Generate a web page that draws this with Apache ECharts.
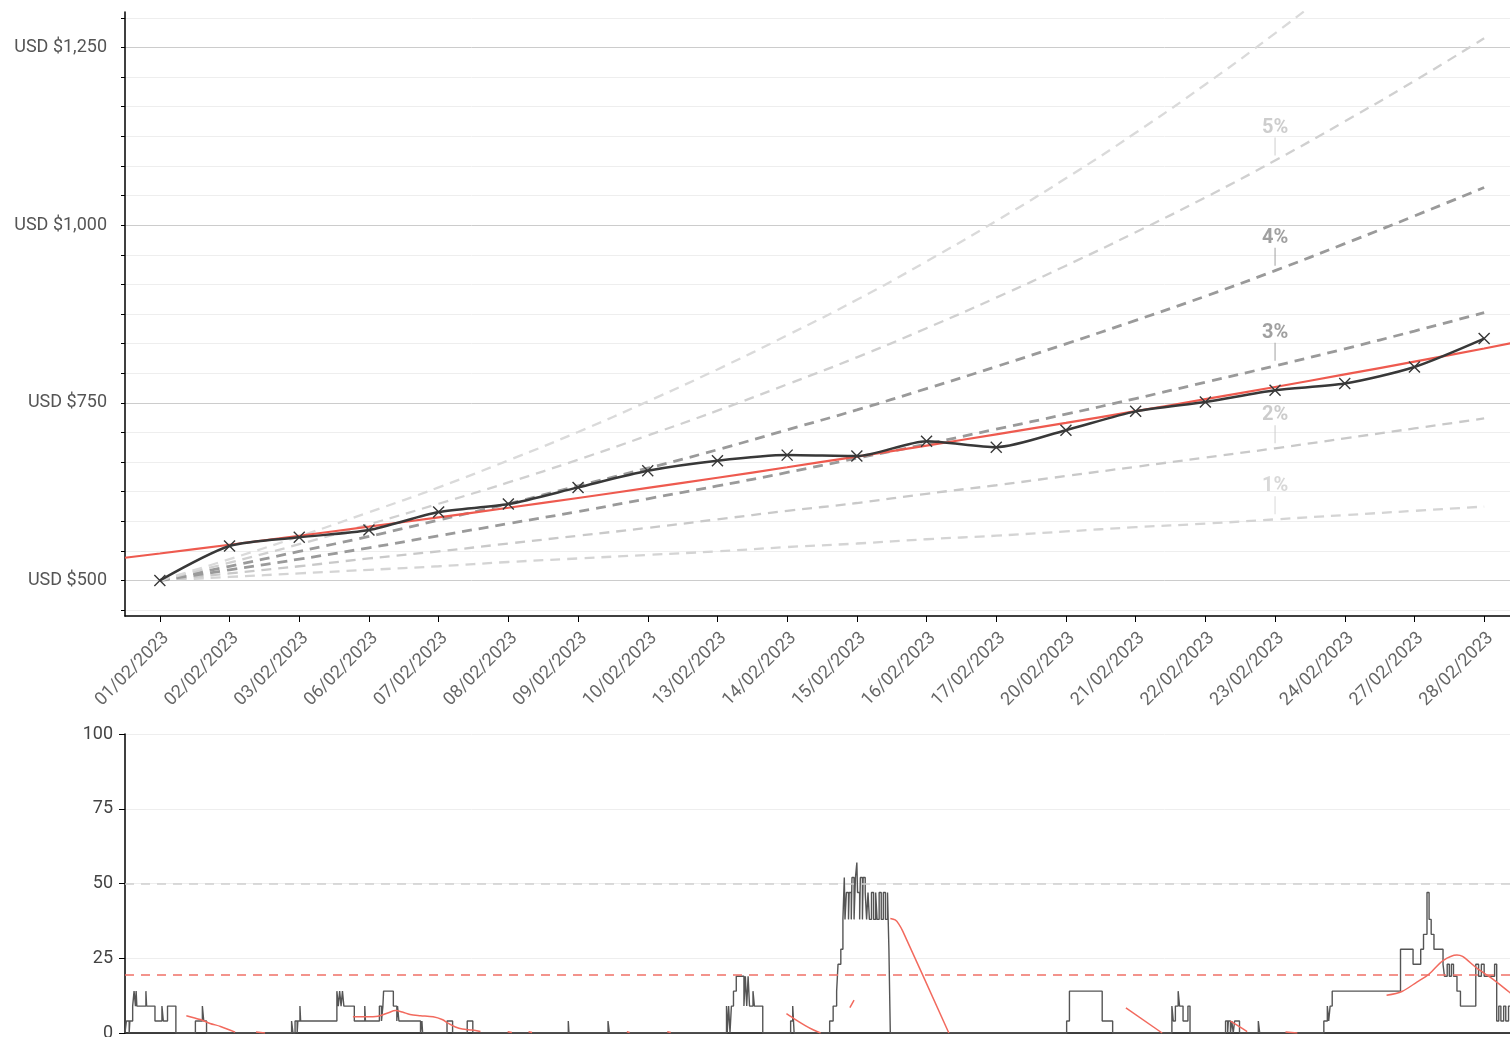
<!DOCTYPE html>
<html><head><meta charset="utf-8">
<script src="https://cdn.jsdelivr.net/npm/echarts@6/dist/echarts.min.js"></script>
<style>html,body{margin:0;padding:0;background:#fff}#c{width:1510px;height:1037px}</style>
</head><body><div id="c"></div>
<script>
// ---------- DATA ----------
const dates = ['01/02/2023','02/02/2023','03/02/2023','06/02/2023','07/02/2023','08/02/2023','09/02/2023','10/02/2023','13/02/2023','14/02/2023','15/02/2023','16/02/2023','17/02/2023','20/02/2023','21/02/2023','22/02/2023','23/02/2023','24/02/2023','27/02/2023','28/02/2023'];
const portfolioValues = [500, 548.5, 560.7, 571, 596.3, 607.5, 631, 654.3, 668.4, 676.4, 675, 696, 687.6, 711.5, 738, 751.3, 767.8, 777.2, 800.5, 840.4];
const trendX = [-0.5, 0, 1, 2, 3, 4, 5, 6, 7, 8, 9, 10, 11, 12, 13, 14, 15, 16, 17, 18, 19, 19.5];
const trendValues = [532, 538, 550.3, 562.9, 575.7, 588.9, 602.3, 616.1, 630.2, 644.6, 659.3, 674.4, 689.8, 705.6, 721.7, 738.2, 755.1, 772.3, 790.0, 808.0, 826.5, 836];
const growthRates = ['1%', '2%', '3%', '4%', '5%', '6%'];
const growth1 = [500, 505, 510, 515, 520, 526, 531, 536, 541, 547, 552, 558, 563, 569, 575, 580, 586, 592, 598, 604];
const growth2 = [500, 510, 520, 531, 541, 552, 563, 574, 586, 598, 609, 622, 634, 647, 660, 673, 686, 700, 714, 728];
const growth3 = [500, 515, 530, 546, 563, 580, 597, 615, 633, 652, 672, 692, 713, 734, 756, 779, 802, 826, 851, 877];
const growth4 = [500, 520, 541, 562, 585, 608, 633, 658, 684, 712, 740, 770, 801, 833, 866, 900, 936, 974, 1013, 1053];
const growth5 = [500, 525, 551, 579, 608, 638, 670, 704, 739, 776, 814, 855, 898, 943, 990, 1039, 1091, 1146, 1203, 1263];
const growth6 = [500, 530, 562, 596, 631, 669, 709, 752, 797, 845, 895, 949, 1006, 1066, 1130, 1198, 1270, 1346, 1427, 1513];
const rateLabelDate = '23/02/2023';
const priceTicks = [458.33, 500, 541.67, 583.33, 625, 666.67, 708.33, 750, 791.67, 833.33, 875, 916.67, 958.33, 1000, 1041.67, 1083.33, 1125, 1166.67, 1208.33, 1250, 1291.67];
const priceLabels = [500, 750, 1000, 1250];
const activityTicks = [0, 25, 50, 75, 100];
const activityReference = 50;
const activityThreshold = 19.5;
const activityLevels = [
[-0.5,0],[-0.48,4],[-0.44,0],[-0.43,4],[-0.39,9],[-0.37,14],[-0.35,9],[-0.34,14],[-0.33,9],[-0.20,14],[-0.19,9],[-0.07,4],[0.03,9],[0.05,4],[0.11,9],[0.23,0],
[0.51,4],[0.61,9],[0.63,4],[0.67,0],
[1.89,4],[1.91,0],[1.94,4],[1.97,0],[1.98,4],[2.01,9],[2.02,4],[2.54,14],[2.56,9],[2.58,14],[2.60,9],[2.62,14],[2.64,9],[2.79,4],[2.94,9],[2.95,4],[3.15,9],[3.18,4],[3.20,9],[3.21,14],[3.35,9],[3.40,4],[3.41,9],[3.43,4],[3.74,0],[3.76,4],[3.77,0],
[4.12,4],[4.20,0],[4.41,4],[4.49,0],
[5.86,4],[5.87,0],[6.43,4],[6.45,0],
[8.13,9],[8.14,0],[8.16,9],[8.18,0],[8.20,9],[8.23,14],[8.27,19],[8.38,9],[8.40,19],[8.42,9],[8.44,19],[8.46,9],[8.51,14],[8.53,9],[8.65,0],
[9.05,4],[9.08,9],[9.10,0],
[9.61,4],[9.66,9],[9.71,14],[9.73,23],[9.77,28],[9.80,38],[9.82,52],[9.83,38],[9.85,47],[9.88,38],[9.89,47],[9.92,38],[9.93,52],[9.96,38],[9.98,52],[10.00,57],[10.01,47],[10.04,38],[10.05,52],[10.08,38],[10.09,52],[10.12,47],[10.14,38],[10.16,47],[10.18,38],[10.21,47],[10.24,38],[10.27,47],[10.29,38],[10.32,47],[10.35,38],[10.38,47],[10.41,38],[10.44,47],[10.46,28],[10.48,0],
[13.01,4],[13.05,14],[13.52,4],[13.67,0],
[14.52,9],[14.54,4],[14.57,9],[14.61,14],[14.63,9],[14.68,4],[14.75,9],[14.78,0],
[15.29,4],[15.32,0],[15.33,4],[15.36,0],[15.38,4],[15.40,0],[15.42,4],[15.49,0],[15.76,4],[15.78,0],
[16.70,4],[16.75,9],[16.77,4],[16.79,9],[16.82,14],[17.80,28],[17.98,23],[18.09,28],[18.13,33],[18.18,47],[18.21,38],[18.24,33],[18.28,28],[18.41,23],[18.43,19],[18.47,23],[18.50,19],[18.53,23],[18.56,19],[18.61,14],[18.66,9],[18.88,23],[18.92,19],[18.96,23],[19.00,19],[19.15,23],[19.18,4],[19.21,9],[19.24,4],[19.28,9],[19.31,4],[19.35,9],[19.40,4],[19.5,4]
];
const activitySmoothed = [
 [[0.38,5.8],[0.58,4.5],[0.72,3.2],[0.87,2.2],[1.08,0.3]],
 [[1.38,0.3],[1.51,0]],
 [[2.77,5.4],[2.95,5.4],[3.13,5.6],[3.28,6.8],[3.38,7.5],[3.48,7.0],[3.59,6.2],[3.74,5.8],[3.92,5.4],[4.05,4.5],[4.14,3.2],[4.24,2.0],[4.34,1.3],[4.48,1.0],[4.60,0.5]],
 [[4.99,0.4],[5.05,0.2]],
 [[5.29,0.4],[5.34,0.2]],
 [[6.70,0.4],[6.74,0.2]],
 [[7.28,0.4],[7.33,0.2]],
 [[8.99,6.5],[9.12,4.5],[9.26,2.5],[9.38,1.0],[9.48,0]],
 [[9.90,8.5],[9.96,11]],
 [[10.48,38.3],[10.55,37.8],[10.60,36.5],[10.66,34],[11.32,0]],
 [[13.86,8.4],[14.38,0]],
 [[15.36,4],[15.50,2],[15.60,0.5]],
 [[16.15,0.3],[16.32,0]],
 [[17.60,12.6],[17.82,13.9],[18.04,17.1],[18.21,19.7],[18.41,24.2],[18.61,26.1],[18.69,25.6],[18.90,21.6],[19.09,18.6],[19.28,15.2],[19.40,12.9],[19.5,11]]
];

// ---------- STYLES ----------
const FONT = 'Roboto';
const growthSeriesData = [growth1, growth2, growth3, growth4, growth5, growth6];
const growthStyles = [
  {color:'#d4d4d4', width:2.3, label:'#d8d8d8', showLabel:true},
  {color:'#c9c9c9', width:2.3, label:'#cccccc', showLabel:true},
  {color:'#9a9a9a', width:2.8, label:'#a0a0a0', showLabel:true},
  {color:'#9a9a9a', width:2.8, label:'#a0a0a0', showLabel:true},
  {color:'#d0d0d0', width:2.3, label:'#cdcdcd', showLabel:true},
  {color:'#dadada', width:2.3, label:'#dadada', showLabel:false}
];
const minorGrid = '#eeeeee', majorGrid = '#cccccc';

const chart = echarts.init(document.getElementById('c'), null, {renderer:'canvas'});

const series = [];
growthSeriesData.forEach((arr, k) => {
  const st = growthStyles[k];
  const idx = dates.indexOf(rateLabelDate);
  series.push({
    type:'line', xAxisIndex:0, yAxisIndex:0, data:arr, symbol:'none', smooth:true, silent:true, z:2,
    lineStyle:{type:[10,7], color:st.color, width:st.width},
    markPoint: st.showLabel ? {
      silent:true, symbol:'rect', symbolSize:[1,18], symbolOffset:[0,-14],
      itemStyle:{color:st.label},
      label:{show:true, position:'top', distance:0, formatter:growthRates[k], color:st.label, fontSize:20, fontWeight:'bold', fontFamily:FONT},
      data:[{coord:[rateLabelDate, arr[idx]]}]
    } : undefined
  });
});
series.push({
  type:'line', xAxisIndex:1, yAxisIndex:0, data:trendX.map((x,i)=>[x, trendValues[i]]),
  symbol:'none', smooth:true, silent:true, z:4, lineStyle:{color:'#ee5a4f', width:2.2}
});
series.push({
  type:'line', xAxisIndex:0, yAxisIndex:0, data:portfolioValues, smooth:0.25, z:5,
  symbol:'path://M0,0L10,10M10,0L0,10', symbolSize:11, showSymbol:true,
  itemStyle:{color:'#383838', borderColor:'#383838', borderWidth:1.4},
  lineStyle:{color:'#383838', width:2.5}
});
series.push({
  type:'line', xAxisIndex:2, yAxisIndex:1, data:activityLevels, step:'end', symbol:'none', silent:true, z:3,
  lineStyle:{color:'#555555', width:1.4},
  markLine:{silent:true, symbol:'none', label:{show:false},
    data:[
      {yAxis:activityReference, lineStyle:{color:'#d0d0d0', type:[9,7], width:1.5}},
      {yAxis:activityThreshold, lineStyle:{color:'#f07067', type:[9,7], width:1.5}}
    ]}
});
const redData = [];
activitySmoothed.forEach((seg, i) => {
  if (i > 0) redData.push(['-','-']);
  seg.forEach(p => redData.push(p));
});
series.push({
  type:'line', xAxisIndex:2, yAxisIndex:1, data:redData, smooth:0.3, symbol:'none', silent:true, z:4,
  connectNulls:false, lineStyle:{color:'#f26a5e', width:1.5}
});

const option = {
  animation:false,
  backgroundColor:'#ffffff',
  textStyle:{fontFamily:FONT},
  grid:[
    {left:125, top:12, right:-9, height:604, outerBoundsMode:'none', containLabel:false},
    {left:125, top:734, right:-9, bottom:4, outerBoundsMode:'none', containLabel:false}
  ],
  xAxis:[
    {type:'category', gridIndex:0, data:dates, boundaryGap:true,
     axisLine:{show:true, onZero:false, lineStyle:{color:'#000', width:1.5}},
     axisTick:{show:true, alignWithLabel:true, length:6, lineStyle:{color:'#000'}},
     axisLabel:{rotate:45, interval:0, fontSize:18, color:'#666', fontFamily:FONT, margin:13, verticalAlign:'top'},
     splitLine:{show:false}},
    {type:'value', gridIndex:0, min:-0.5, max:19.5, show:false},
    {type:'value', gridIndex:1, min:-0.5, max:19.5,
     axisLine:{show:true, onZero:false, lineStyle:{color:'#000', width:1.5}},
     axisTick:{show:false}, axisLabel:{show:false}, splitLine:{show:false}}
  ],
  yAxis:[
    {type:'value', gridIndex:0, min:450, max:1300,
     axisLine:{show:true, onZero:false, lineStyle:{color:'#000', width:1.5}},
     axisTick:{show:true, customValues:priceTicks, length:4, lineStyle:{color:'#000'}},
     axisLabel:{customValues:priceLabels, formatter:v => 'USD $' + Number(v).toLocaleString('en-US'), fontSize:18, color:'#555', fontFamily:FONT, margin:18},
     splitLine:{show:true, lineStyle:{color:[minorGrid, majorGrid, minorGrid, minorGrid, minorGrid, minorGrid], width:1}}},
    {type:'value', gridIndex:1, min:activityTicks[0], max:activityTicks[activityTicks.length-1], interval:25,
     axisLine:{show:true, onZero:false, lineStyle:{color:'#000', width:1.5}},
     axisTick:{show:true, length:6, lineStyle:{color:'#000'}},
     axisLabel:{fontSize:18, color:'#444', fontFamily:FONT, margin:12},
     splitLine:{show:true, lineStyle:{color:'#eeeeee', width:1}}}
  ],
  series:series
};
chart.setOption(option);
</script>
</body></html>
